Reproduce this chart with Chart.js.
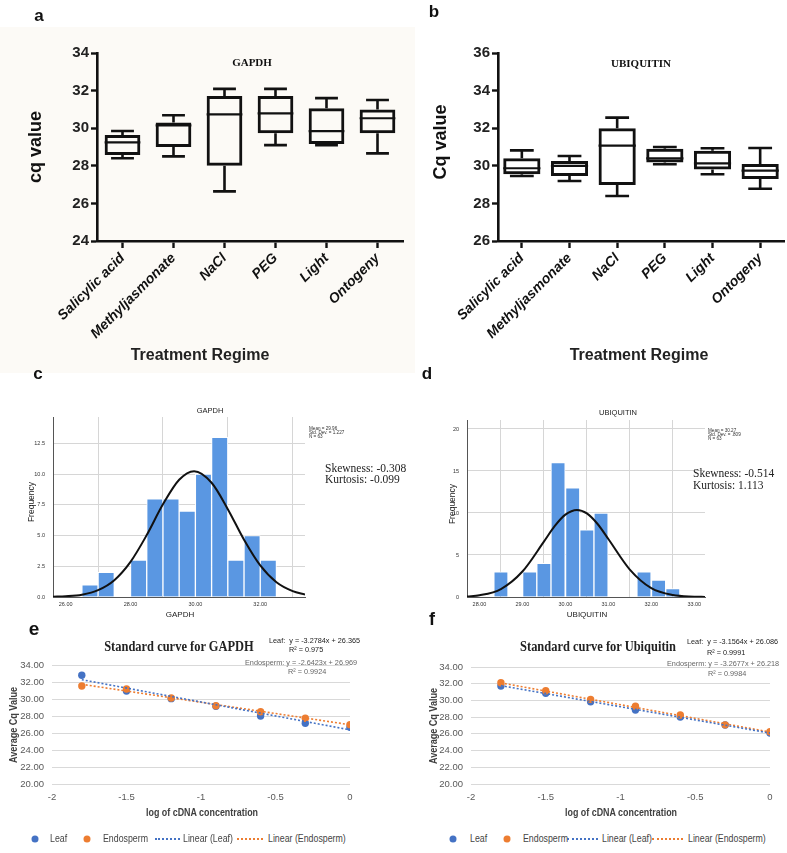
<!DOCTYPE html>
<html><head><meta charset="utf-8">
<script src="https://cdn.jsdelivr.net/npm/chart.js@4.4.0/dist/chart.umd.min.js"></script>
<style>
html,body{margin:0;padding:0;background:#fff;}
#wrap{position:relative;width:787px;height:853px;overflow:hidden;font-family:"Liberation Sans",Arial,sans-serif;color:#111;}
canvas{position:absolute;}
.t{position:absolute;white-space:nowrap;transform:translate(-50%,-50%);line-height:1;}
.l{position:absolute;white-space:nowrap;line-height:1;transform:translateY(-50%);}
.v{position:absolute;white-space:nowrap;line-height:1;transform:translate(-50%,-50%) rotate(-90deg);}
.serif{font-family:"Liberation Serif","Times New Roman",serif;}
.dot{position:absolute;width:7px;height:7px;border-radius:50%;transform:translate(-50%,-50%);}
.dl{position:absolute;height:0;border-top:2px dotted;transform:translateY(-50%);}
.eq{position:absolute;white-space:nowrap;line-height:1;font-size:8px;transform:translateY(-50%) scaleX(0.91);transform-origin:left center;}
.lg{position:absolute;white-space:nowrap;line-height:1;font-size:10px;color:#444;transform:translateY(-50%) scaleX(0.88);transform-origin:left center;}
.xt{position:absolute;white-space:nowrap;line-height:1;font-size:11px;font-weight:bold;color:#404040;transform:translate(-50%,-50%) scaleX(0.81);}
.yt{position:absolute;white-space:nowrap;line-height:1;font-size:11px;font-weight:bold;color:#404040;transform:translate(-50%,-50%) rotate(-90deg) scaleX(0.82);}
.st{position:absolute;white-space:nowrap;line-height:1;font-family:"Liberation Serif","Times New Roman",serif;font-weight:bold;font-size:14px;color:#222;transform:translate(-50%,-50%) scaleX(0.89);}
</style></head><body><div id="wrap">
<div style="position:absolute;left:0;top:27px;width:415px;height:346px;background:#fcfaf6;"></div>
<canvas id="ca" width="410" height="380" style="left:0;top:0;"></canvas>
<canvas id="cb" width="377" height="380" style="left:410px;top:0;"></canvas>
<canvas id="cc" width="400" height="220" style="left:0;top:400px;"></canvas>
<canvas id="cd" width="387" height="220" style="left:400px;top:400px;"></canvas>
<canvas id="ce" width="400" height="200" style="left:0;top:620px;"></canvas>
<canvas id="cf" width="387" height="200" style="left:400px;top:620px;"></canvas>

<div class="t" style="left:39px;top:15px;font-weight:bold;font-size:17px;">a</div>
<div class="t" style="left:434px;top:11px;font-weight:bold;font-size:17px;">b</div>
<div class="t serif" style="left:252px;top:62px;font-weight:bold;font-size:11px;">GAPDH</div>
<div class="t serif" style="left:641px;top:63px;font-weight:bold;font-size:11px;">UBIQUITIN</div>
<div class="v" style="left:35px;top:147px;font-weight:bold;font-size:18px;">cq value</div>
<div class="v" style="left:440px;top:142px;font-weight:bold;font-size:18px;">Cq value</div>
<div class="t" style="left:200px;top:355px;font-weight:bold;font-size:16px;color:#222;">Treatment Regime</div>
<div class="t" style="left:639px;top:355px;font-weight:bold;font-size:16px;color:#222;">Treatment Regime</div>

<div class="t" style="left:38px;top:373px;font-weight:bold;font-size:17px;">c</div>
<div class="t" style="left:427px;top:373px;font-weight:bold;font-size:17px;">d</div>
<div class="t" style="left:210px;top:411px;font-size:7.5px;color:#222;">GAPDH</div>
<div class="t" style="left:618px;top:413px;font-size:7.5px;color:#222;">UBIQUITIN</div>
<div class="l" style="left:309px;top:429px;font-size:4.6px;color:#333;">Mean = 29.96</div>
<div class="l" style="left:309px;top:433px;font-size:4.6px;color:#333;">Std. Dev. = 1.227</div>
<div class="l" style="left:309px;top:437px;font-size:4.6px;color:#333;">N = 63</div>
<div class="l" style="left:708px;top:431px;font-size:4.6px;color:#333;">Mean = 30.27</div>
<div class="l" style="left:708px;top:435px;font-size:4.6px;color:#333;">Std. Dev. = .809</div>
<div class="l" style="left:708px;top:439px;font-size:4.6px;color:#333;">N = 63</div>
<div class="l serif" style="left:325px;top:469px;font-size:11.5px;color:#222;">Skewness: -0.308</div>
<div class="l serif" style="left:325px;top:480px;font-size:11.5px;color:#222;">Kurtosis: -0.099</div>
<div class="l serif" style="left:693px;top:474px;font-size:11.5px;color:#222;">Skewness: -0.514</div>
<div class="l serif" style="left:693px;top:486px;font-size:11.5px;color:#222;">Kurtosis: 1.113</div>
<div class="v" style="left:31px;top:502px;font-size:8.5px;color:#222;">Frequency</div>
<div class="v" style="left:452px;top:504px;font-size:8.5px;color:#222;">Frequency</div>
<div class="t" style="left:180px;top:615px;font-size:8px;color:#222;">GAPDH</div>
<div class="t" style="left:587px;top:615px;font-size:8px;color:#222;">UBIQUITIN</div>

<div class="t" style="left:34px;top:628px;font-weight:bold;font-size:19px;">e</div>
<div class="t" style="left:432px;top:619px;font-weight:bold;font-size:18px;">f</div>
<div class="st" style="left:179px;top:647px;">Standard curve for GAPDH</div>
<div class="st" style="left:598px;top:647px;">Standard curve for Ubiquitin</div>
<div class="eq" style="left:269px;top:641px;color:#222;">Leaf:&nbsp; y = -3.2784x + 26.365</div>
<div class="eq" style="left:289px;top:650px;color:#222;">R² = 0.975</div>
<div class="eq" style="left:245px;top:663px;color:#666;">Endosperm: y = -2.6423x + 26.969</div>
<div class="eq" style="left:288px;top:672px;color:#666;">R² = 0.9924</div>
<div class="eq" style="left:687px;top:642px;color:#222;">Leaf:&nbsp; y = -3.1564x + 26.086</div>
<div class="eq" style="left:707px;top:653px;color:#222;">R² = 0.9991</div>
<div class="eq" style="left:667px;top:664px;color:#666;">Endosperm: y = -3.2677x + 26.218</div>
<div class="eq" style="left:708px;top:674px;color:#666;">R² = 0.9984</div>
<div class="yt" style="left:13px;top:725px;">Average Cq Value</div>
<div class="yt" style="left:433px;top:726px;">Average Cq Value</div>
<div class="xt" style="left:202px;top:812px;">log of cDNA concentration</div>
<div class="xt" style="left:621px;top:812px;">log of cDNA concentration</div>

<div class="dot" style="left:35px;top:839px;background:#4472c4;"></div>
<div class="lg" style="left:50px;top:839px;">Leaf</div>
<div class="dot" style="left:87px;top:839px;background:#ed7d31;"></div>
<div class="lg" style="left:103px;top:839px;">Endosperm</div>
<div class="dl" style="left:155px;top:839px;width:25px;border-color:#4472c4;"></div>
<div class="lg" style="left:183px;top:839px;">Linear (Leaf)</div>
<div class="dl" style="left:237px;top:839px;width:26px;border-color:#ed7d31;"></div>
<div class="lg" style="left:268px;top:839px;">Linear (Endosperm)</div>

<div class="dot" style="left:453px;top:839px;background:#4472c4;"></div>
<div class="lg" style="left:470px;top:839px;">Leaf</div>
<div class="dot" style="left:507px;top:839px;background:#ed7d31;"></div>
<div class="lg" style="left:523px;top:839px;">Endosperm</div>
<div class="dl" style="left:567px;top:839px;width:31px;border-color:#4472c4;"></div>
<div class="lg" style="left:602px;top:839px;">Linear (Leaf)</div>
<div class="dl" style="left:652px;top:839px;width:31px;border-color:#ed7d31;"></div>
<div class="lg" style="left:688px;top:839px;">Linear (Endosperm)</div>
</div>
<script>
// ---- Box plots (a, b) ----
const treatments = ['Salicylic acid','Methyljasmonate','NaCl','PEG','Light','Ontogeny'];
const gapdhYTicks = [24,26,28,30,32,34];
const gapdhMin    = [28.40, 28.50, 26.64, 29.10, 29.09, 28.66];
const gapdhQ1     = [28.57, 29.00, 28.00, 29.73, 29.16, 29.73];
const gapdhMedian = [29.25, 30.15, 30.74, 30.79, 29.84, 30.53];
const gapdhQ3     = [29.64, 30.30, 31.71, 31.71, 31.06, 31.00];
const gapdhMax    = [29.85, 30.69, 32.09, 32.09, 31.60, 31.50];
const ubqYTicks = [26,28,30,32,34,36];
const ubqMin    = [29.46, 29.19, 28.39, 30.08, 29.55, 28.78];
const ubqQ1     = [29.55, 29.46, 28.98, 30.17, 29.80, 29.30];
const ubqMedian = [29.87, 30.00, 31.07, 30.40, 30.13, 29.74];
const ubqQ3     = [30.40, 30.26, 32.00, 30.91, 30.80, 30.10];
const ubqMax    = [30.82, 30.52, 32.56, 31.00, 30.93, 30.95];

// ---- Histograms (c, d) ----
const gapdhBinCenters = [26.75, 27.25, 27.75, 28.25, 28.75, 29.25, 29.75, 30.25, 30.75, 31.25, 31.75, 32.25];
const gapdhFreq       = [1, 2, 0, 3, 8, 8, 7, 10, 13, 3, 5, 3];
const gapdhCurveX = [25.61, 26.0, 26.5, 27.0, 27.5, 28.0, 28.5, 29.0, 29.5, 29.96, 30.5, 31.0, 31.5, 32.0, 32.5, 33.0, 33.38];
const gapdhCurveY = [0.02, 0.06, 0.19, 0.56, 1.37, 2.86, 5.04, 7.54, 9.54, 10.24, 9.30, 7.15, 4.66, 2.57, 1.20, 0.48, 0.21];
const gapdhHistXTicks = [26, 28, 30, 32];
const gapdhHistYTicks = [0, 2.5, 5, 7.5, 10, 12.5];
const ubqBinCenters = [28.50, 28.83, 29.17, 29.50, 29.83, 30.17, 30.50, 30.83, 31.17, 31.50, 31.83, 32.17, 32.50];
const ubqFreq       = [3, 0, 3, 4, 16, 13, 8, 10, 0, 0, 3, 2, 1];
const ubqCurveX = [27.71, 28.0, 28.5, 29.0, 29.5, 29.75, 30.0, 30.27, 30.5, 30.75, 31.0, 31.5, 32.0, 32.5, 33.0, 33.25];
const ubqCurveY = [0.07, 0.20, 0.95, 3.03, 6.59, 8.43, 9.80, 10.36, 9.95, 8.69, 6.90, 3.26, 1.05, 0.23, 0.04, 0.01];
const ubqHistXTicks = [28, 29, 30, 31, 32, 33];
const ubqHistYTicks = [0, 5, 10, 15, 20];

// ---- Standard curves (e, f) ----
const logConc = [-1.8, -1.5, -1.2, -0.9, -0.6, -0.3, 0];
const gapdhLeaf = [32.79, 30.94, 30.04, 29.14, 28.00, 27.14, 26.67];
const gapdhEndo = [31.53, 31.18, 30.12, 29.20, 28.50, 27.73, 26.98];
const ubqLeaf   = [31.73, 30.85, 29.85, 28.86, 28.02, 27.06, 26.10];
const ubqEndo   = [32.12, 31.16, 30.13, 29.30, 28.26, 27.08, 26.26];
const trendX = [-1.8, 0];
const gapdhLeafTrend = [32.27, 26.37];
const gapdhEndoTrend = [31.73, 26.97];
const ubqLeafTrend   = [31.77, 26.09];
const ubqEndoTrend   = [32.10, 26.22];
const stdXTicks = [-2, -1.5, -1, -0.5, 0];
const stdYTicks = [20, 22, 24, 26, 28, 30, 32, 34];

Chart.defaults.animation = false;
Chart.defaults.font.family = '"Liberation Sans", Arial, sans-serif';

function setTicks(arr){ return s => { s.ticks = arr.map(v => ({value: v})); }; }

function whiskerPlugin(mins, meds, maxs){
  return {
    id: 'whiskers',
    afterDatasetsDraw(chart){
      const ctx = chart.ctx, x = chart.scales.x, y = chart.scales.y;
      const bars = chart.getDatasetMeta(0).data;
      ctx.save();
      ctx.strokeStyle = '#111';
      ctx.lineCap = 'butt';
      bars.forEach((bar, i) => {
        const cx = x.getPixelForValue(i);
        const hw = bar.width / 2;
        const cap = hw * 0.64;
        const pMin = y.getPixelForValue(mins[i]);
        const pMax = y.getPixelForValue(maxs[i]);
        const pMed = y.getPixelForValue(meds[i]);
        const top = Math.min(bar.y, bar.base), bot = Math.max(bar.y, bar.base);
        ctx.lineWidth = 2.6;
        ctx.beginPath();
        ctx.moveTo(cx, top); ctx.lineTo(cx, pMax);
        ctx.moveTo(cx - cap, pMax); ctx.lineTo(cx + cap, pMax);
        ctx.moveTo(cx, bot); ctx.lineTo(cx, pMin);
        ctx.moveTo(cx - cap, pMin); ctx.lineTo(cx + cap, pMin);
        ctx.stroke();
        ctx.lineWidth = 2.2;
        ctx.beginPath();
        ctx.moveTo(cx - hw, pMed); ctx.lineTo(cx + hw, pMed);
        ctx.stroke();
      });
      ctx.restore();
    }
  };
}

function boxChart(id, q1, q3, mins, meds, maxs, yTicks, leftW, rightPad, barPct){
  new Chart(document.getElementById(id), {
    type: 'bar',
    data: {
      labels: treatments,
      datasets: [{
        data: q1.map((v, i) => [v, q3[i]]),
        backgroundColor: 'rgba(0,0,0,0)',
        borderColor: '#111',
        borderWidth: 3,
        borderSkipped: false,
        barPercentage: barPct,
        categoryPercentage: 1
      }]
    },
    options: {
      responsive: false,
      layout: {padding: {top: 53, right: rightPad, left: 0, bottom: 0}},
      plugins: {legend: {display: false}, tooltip: {enabled: false}},
      scales: {
        x: {
          offset: true,
          grid: {offset: false, drawOnChartArea: false, drawTicks: true, tickLength: 7, tickWidth: 2.4, tickColor: '#111'},
          border: {display: true, color: '#111', width: 2.6},
          ticks: {autoSkip: false, minRotation: 45, maxRotation: 45, padding: 2, color: '#111',
                  font: {size: 14, weight: 'bold', style: 'italic'}},
          afterFit: s => { s.height = 139; }
        },
        y: {
          min: yTicks[0], max: yTicks[yTicks.length - 1],
          afterBuildTicks: setTicks(yTicks),
          grid: {drawOnChartArea: false, drawTicks: true, tickLength: 6, tickWidth: 2.4, tickColor: '#111'},
          border: {display: true, color: '#111', width: 2.6},
          ticks: {padding: 2, color: '#222', font: {size: 15, weight: 'bold'}},
          afterFit: s => { s.width = leftW; }
        }
      }
    },
    plugins: [whiskerPlugin(mins, meds, maxs)]
  });
}

boxChart('ca', gapdhQ1, gapdhQ3, gapdhMin, gapdhMedian, gapdhMax, gapdhYTicks, 97, 7, 0.7);
boxChart('cb', ubqQ1, ubqQ3, ubqMin, ubqMedian, ubqMax, ubqYTicks, 88, 3, 0.78);

function histChart(id, centers, freq, cx, cy, xTicks, yTicks, xMin, xMax, yMax, leftW, topPad, rightPad, yFmt){
  new Chart(document.getElementById(id), {
    type: 'bar',
    data: {
      datasets: [
        {type: 'line', data: cx.map((x, i) => ({x, y: cy[i]})), borderColor: '#111', borderWidth: 2,
         pointRadius: 0, fill: false, cubicInterpolationMode: 'monotone', order: 0},
        {type: 'bar', data: centers.map((x, i) => ({x, y: freq[i]})), backgroundColor: '#5a97e2',
         borderColor: '#ffffff', borderWidth: 1, barPercentage: 1, categoryPercentage: 1, order: 1}
      ]
    },
    options: {
      responsive: false,
      layout: {padding: {top: topPad, right: rightPad, left: 0, bottom: 0}},
      plugins: {legend: {display: false}, tooltip: {enabled: false}},
      scales: {
        x: {
          type: 'linear', min: xMin, max: xMax, offset: false,
          afterBuildTicks: setTicks(xTicks),
          grid: {color: '#d6d6d6', lineWidth: 1, drawTicks: false},
          border: {display: true, color: '#555', width: 1},
          ticks: {padding: 4, color: '#333', font: {size: 5.5}, callback: v => Number(v).toFixed(2)},
          afterFit: s => { s.height = 23; }
        },
        y: {
          min: 0, max: yMax,
          afterBuildTicks: setTicks(yTicks),
          grid: {color: '#d6d6d6', lineWidth: 1, drawTicks: false},
          border: {display: true, color: '#555', width: 1},
          ticks: {padding: 8, color: '#333', font: {size: 5.5}, callback: yFmt},
          afterFit: s => { s.width = leftW; }
        }
      }
    }
  });
}

histChart('cc', gapdhBinCenters, gapdhFreq, gapdhCurveX, gapdhCurveY, gapdhHistXTicks, gapdhHistYTicks,
          25.61, 33.38, 14.65, 53, 17, 95, v => Number(v).toFixed(1));
histChart('cd', ubqBinCenters, ubqFreq, ubqCurveX, ubqCurveY, ubqHistXTicks, ubqHistYTicks,
          27.71, 33.25, 21.07, 67, 20, 82, v => String(v));

function stdChart(id, leaf, endo, leafT, endoT, leftW, topPad, rightPad){
  const pts = arr => logConc.map((x, i) => ({x, y: arr[i]}));
  const tr = arr => trendX.map((x, i) => ({x, y: arr[i]}));
  new Chart(document.getElementById(id), {
    type: 'scatter',
    data: {
      datasets: [
        {label: 'Linear (Leaf)', data: tr(leafT), showLine: true, borderColor: '#4472c4', borderWidth: 1.6,
         borderDash: [2, 2], pointRadius: 0, order: 0},
        {label: 'Linear (Endosperm)', data: tr(endoT), showLine: true, borderColor: '#ed7d31', borderWidth: 1.6,
         borderDash: [2, 2], pointRadius: 0, order: 1},
        {label: 'Endosperm', data: pts(endo), pointRadius: 3.7, backgroundColor: '#ed7d31', borderWidth: 0, order: 2},
        {label: 'Leaf', data: pts(leaf), pointRadius: 3.7, backgroundColor: '#4472c4', borderWidth: 0, order: 3}
      ]
    },
    options: {
      responsive: false,
      layout: {padding: {top: topPad, right: rightPad, left: 0, bottom: 0}},
      plugins: {legend: {display: false}, tooltip: {enabled: false}},
      scales: {
        x: {
          type: 'linear', min: -2, max: 0,
          afterBuildTicks: setTicks(stdXTicks),
          grid: {display: false, drawTicks: false},
          border: {display: false},
          ticks: {padding: 8, color: '#595959', font: {size: 9.5}, callback: v => String(v)},
          afterFit: s => { s.height = 36; }
        },
        y: {
          min: 20, max: 34,
          afterBuildTicks: setTicks(stdYTicks),
          grid: {color: '#d9d9d9', lineWidth: 1, drawTicks: false},
          border: {display: false},
          ticks: {padding: 8, color: '#595959', font: {size: 9.5}, callback: v => Number(v).toFixed(2)},
          afterFit: s => { s.width = leftW; }
        }
      }
    }
  });
}

stdChart('ce', gapdhLeaf, gapdhEndo, gapdhLeafTrend, gapdhEndoTrend, 52, 45, 50);
stdChart('cf', ubqLeaf, ubqEndo, ubqLeafTrend, ubqEndoTrend, 71, 47, 17);
</script>
</body></html>
